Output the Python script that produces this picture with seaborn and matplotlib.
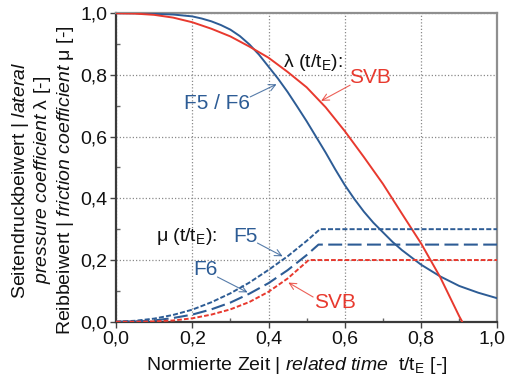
import numpy as np
import pandas as pd
import matplotlib
matplotlib.use("Agg")
import matplotlib.pyplot as plt
import matplotlib.transforms as mtransforms
import seaborn as sns

# Lateral pressure coefficient lambda over normalised time
lam_t = [0.0, 0.05, 0.1, 0.15, 0.2, 0.225, 0.25, 0.275, 0.3, 0.325, 0.35, 0.375,
         0.4, 0.425, 0.45, 0.475, 0.5, 0.525, 0.55, 0.575, 0.6, 0.625, 0.65,
         0.675, 0.7, 0.725, 0.75, 0.8, 0.85, 0.9, 0.95, 1.0]
lam_f56 = [1.0, 1.0, 0.998, 0.996, 0.99, 0.983, 0.974, 0.962, 0.947, 0.926,
           0.899, 0.866, 0.827, 0.788, 0.745, 0.698, 0.65, 0.599, 0.548, 0.494,
           0.443, 0.398, 0.357, 0.321, 0.29, 0.259, 0.232, 0.185, 0.147, 0.116,
           0.094, 0.076]
lam_svb_t = [0.0, 0.05, 0.1, 0.15, 0.2, 0.25, 0.3, 0.35, 0.4, 0.45, 0.5, 0.55,
             0.6, 0.65, 0.7, 0.75, 0.8, 0.85, 0.9, 0.908]
lam_svb = [1.0, 0.999, 0.995, 0.986, 0.971, 0.95, 0.925, 0.892, 0.856, 0.81,
           0.76, 0.695, 0.618, 0.534, 0.447, 0.35, 0.254, 0.145, 0.018, 0.0]

# Friction coefficient mu over normalised time
mu_f5_t = [0.0, 0.05, 0.1, 0.15, 0.2, 0.25, 0.3, 0.35, 0.4, 0.45, 0.5, 0.535, 1.0]
mu_f5 = [0.0, 0.003, 0.010, 0.022, 0.039, 0.063, 0.092, 0.127, 0.168, 0.212, 0.262, 0.30, 0.30]
mu_f6_t = [0.0, 0.05, 0.1, 0.15, 0.2, 0.25, 0.3, 0.35, 0.4, 0.45, 0.5, 0.531, 1.0]
mu_f6 = [0.0, 0.001, 0.004, 0.012, 0.023, 0.040, 0.062, 0.091, 0.125, 0.167, 0.216, 0.25, 0.25]
mu_svb_t = [0.0, 0.05, 0.1, 0.15, 0.2, 0.25, 0.3, 0.35, 0.4, 0.45, 0.5, 0.505, 1.0]
mu_svb = [0.0, 0.0, 0.001, 0.004, 0.011, 0.023, 0.040, 0.064, 0.097, 0.140, 0.194, 0.20, 0.20]

tick_vals = [0.0, 0.2, 0.4, 0.6, 0.8, 1.0]
tick_labels = ["0,0", "0,2", "0,4", "0,6", "0,8", "1,0"]

BLUE = "#2d5c95"
RED = "#e8392e"

sns.set_theme(style="white")
plt.rcParams["font.family"] = ["Liberation Sans", "DejaVu Sans"]
plt.rcParams["mathtext.fontset"] = "custom"
plt.rcParams["mathtext.rm"] = "Liberation Sans"
plt.rcParams["mathtext.it"] = "Liberation Sans:italic"
plt.rcParams["mathtext.bf"] = "Liberation Sans:bold"

fig = plt.figure(figsize=(5.08, 3.81), dpi=100)
ax = fig.add_axes([116 / 508, 1 - 321.7 / 381, 381.3 / 508, 308.4 / 381])

def line(xs, ys, color, ls="-", lw=1.4):
    df = pd.DataFrame({"t": xs, "v": ys})
    sns.lineplot(data=df, x="t", y="v", ax=ax, color=color, linewidth=lw,
                 linestyle=ls, sort=False, errorbar=None, zorder=3)

line(lam_t, lam_f56, BLUE)
line(lam_svb_t, lam_svb, RED)
line(mu_f5_t, mu_f5, BLUE, ls=(0, (2.6, 1.1)))
line(mu_f6_t, mu_f6, BLUE, ls=(0, (6.7, 2.6)), lw=1.5)
line(mu_svb_t, mu_svb, RED, ls=(0, (2.4, 1.1)))

ax.set_xlim(0, 1)
ax.set_ylim(0, 1)
ax.set_xticks(tick_vals)
ax.set_xticklabels(tick_labels)
ax.set_yticks(tick_vals)
ax.set_yticklabels(tick_labels)
ax.set_xticks(np.arange(0.1, 1.0, 0.2), minor=True)
ax.set_yticks(np.arange(0.1, 1.0, 0.2), minor=True)
ax.tick_params(axis="both", which="major", direction="out", length=4, width=1,
               color="#444444", labelsize=14, pad=2, labelcolor="#111111")
ax.tick_params(axis="both", which="minor", direction="in", length=3, width=1,
               color="#666666")
ax.tick_params(axis="x", which="both", bottom=True)
ax.tick_params(axis="y", which="both", left=True)

# keep the last x tick label inside the canvas
last = ax.get_xticklabels()[-1]
last.set_transform(last.get_transform() +
                   mtransforms.ScaledTranslation(-5 / 100, 0, fig.dpi_scale_trans))

ax.grid(True, which="major", color="#8a8a8a", linestyle=(0, (1, 1.6)),
        linewidth=0.9, zorder=1)
ax.set_axisbelow(True)

for side in ["left", "bottom"]:
    ax.spines[side].set_color("#3a3a3a")
    ax.spines[side].set_linewidth(1.6)
for side in ["top", "right"]:
    ax.spines[side].set_color("#8f8f8f")
    ax.spines[side].set_linewidth(1.6)

ax.set_xlabel("")
ax.set_ylabel("")
fig.text(297 / 508, 1 - 366 / 381,
         r"Normierte Zeit | $\it{related\ time}$  t/t$_\mathrm{E}$ [-]",
         ha="center", va="center", fontsize=14, color="#111111")
fig.text(43 / 508, 1 - 180 / 381,
         "Seitendruckbeiwert | $\\it{lateral}$\n"
         "$\\it{pressure\\ coefficient}$ λ [-]\n"
         "Reibbeiwert | $\\it{friction\\ coefficient}$ μ [-]",
         rotation=90, ha="center", va="center", fontsize=14,
         color="#111111", linespacing=1.1, multialignment="center")

# Curve labels with pointer arrows
ax.text(0.517, 0.842, r"λ (t/t$_\mathrm{E}$):", ha="center", va="center",
        fontsize=14, color="#111111")
ax.text(0.184, 0.275, r"μ (t/t$_\mathrm{E}$):", ha="center", va="center",
        fontsize=14, color="#111111")

def tag(text, xy, color):
    ax.text(*xy, text, ha="center", va="center", fontsize=15, color=color)

def arrow(tail, head, color):
    ax.annotate("", xy=head, xytext=tail,
                arrowprops=dict(arrowstyle="->", color=color, lw=0.8,
                                alpha=0.8, shrinkA=0, shrinkB=0))

tag("SVB", (0.667, 0.793), RED)
arrow((0.614, 0.767), (0.538, 0.716), RED)
tag("F5 / F6", (0.266, 0.709), BLUE)
arrow((0.352, 0.729), (0.421, 0.770), BLUE)
tag("F5", (0.339, 0.275), BLUE)
arrow((0.371, 0.255), (0.437, 0.212), BLUE)
tag("F6", (0.234, 0.168), BLUE)
arrow((0.266, 0.145), (0.345, 0.095), BLUE)
tag("SVB", (0.573, 0.061), RED)
arrow((0.517, 0.080), (0.452, 0.127), RED)

fig.savefig("out.png", dpi=100)
